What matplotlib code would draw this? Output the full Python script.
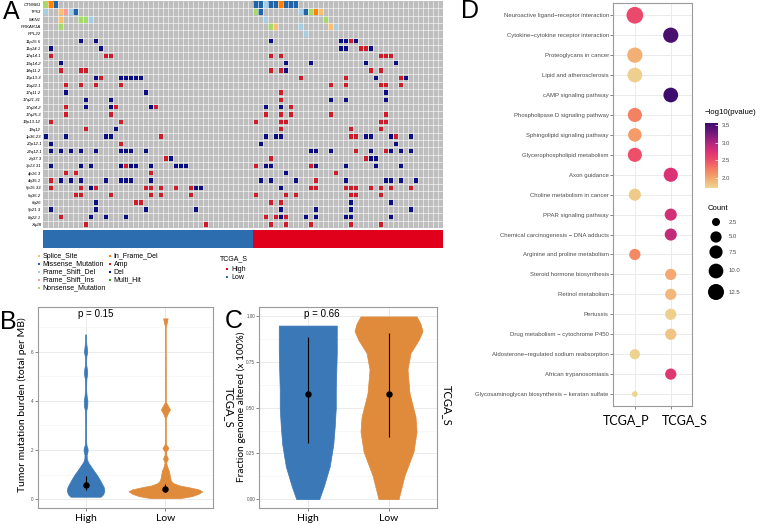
import matplotlib
matplotlib.use("Agg")
import matplotlib.pyplot as plt
import numpy as np
from matplotlib.colors import LinearSegmentedColormap, Normalize
from matplotlib.patches import Rectangle

# ---------------- data: panel A (oncoprint) ----------------
row_labels = ["CTNNB1", "TP53", "MEN1", "PRKAR1A", "RPL22",
              "11p15.5", "11q14.1", "12q14.1", "13q14.2", "14q11.2", "16p13.3",
              "16q22.1", "17q11.2", "17q21.31", "17q24.2", "17q25.3", "19p13.12",
              "19q12", "1p36.23", "20p12.1", "22q12.1", "2q37.3", "3p13.31",
              "4p16.3", "4q35.1", "5p15.33", "5q35.2", "6q26", "9p21.3",
              "8q22.1", "Xq28"]
n_low = 42
n_high = 38
# "<sample column><code>" per row
alt_rows = [
    "0N 1E 2M 42M 43M 44F 45M 46M 47E 48M 49M 50M",
    "0F 3S 4I 5F 6M 42N 43M 51F 52M 53N 54E 55S",
    "3S 7N 8N 9F 44F 56N",
    "3N 45N 46S 51F 57S 58F",
    "52F",
    "7D 10D 45D 59D 60D 61A 62D",
    "1D 11D 59D 60D 63A 64A 65D",
    "1A 12A 13A 45A 47A 67A 68A 69A",
    "3D 48D 53D 64D 70D",
    "3A 7A 8A 45A 47A 48D 65A 67A",
    "10D 11A 15D 16D 17D 18D 19D 51A 60A 66D 71A 72D",
    "4A 7A 10A 15A 57A 60A 67A 68A 71A",
    "4D 20D 47A 68D",
    "8D 13D 47A 57D 60D 68D",
    "4A 8D 13D 14A 21D 22A 44D 47D 49A",
    "4A 13A 44A 47A 49A 57A 68A",
    "1A 15A 42A 47A 48A 67A 68A",
    "8A 14D 47A 61A 67A",
    "0D 4D 12D 13D 23A 44D 46D 47D 61A 62A 64D 65D 69D 70A 73D",
    "1D 15A 43D 70D",
    "1D 3D 5D 7D 10D 15D 16D 17D 20D 53D 54D 57D 62A 65D 68A 69D 71D 73D",
    "24A 25D 45A 64A 65D 66D",
    "1D 7D 9D 15D 16A 17D 18D 21D 26D 27D 28D 42A 44D 45D 53A 54D 60D 66D 71D",
    "4A 6A 21A 48D 58A",
    "1A 3D 5D 7D 12D 15D 16D 17D 21D 43D 45D 50D 54A 60D 68D 69D 71D 74D",
    "1A 7A 9D 10A 20A 21A 23A 26A 29A 30D 31D 47D 53A 54A 60A 61A 62A 65A 67A 69A 73A",
    "6A 7A 13A 21A 23A 29A 42A 48A 50A 61A 62A 67A",
    "10D 18A 19A 45A 47A 61D 69D",
    "1D 10D 20D 30D 47D 54D 61D 73D",
    "3A 9D 12D 16D 44A 46A 47D 48A 52D 54D 60D 61D 69D",
    "8A 32A 45A 48A 53A 61A 67A",
]
alt_names = {"S": "Splice_Site", "M": "Missense_Mutation", "F": "Frame_Shift_Del",
             "I": "Frame_Shift_Ins", "N": "Nonsense_Mutation", "E": "In_Frame_Del",
             "A": "Amp", "D": "Del", "H": "Multi_Hit"}
alt_colors = {"S": "#FDBF6F", "M": "#1F63A8", "F": "#A6CEE3", "I": "#FB9A99",
              "N": "#A6D96A", "E": "#FF7F00", "A": "#D01C2A", "D": "#0B0D85",
              "H": "#33A02C"}
group_colors = {"High": "#E0001C", "Low": "#2C6DAF"}

# ---------------- data: panel B (TMB violins) ----------------
tmb_high_y = [0.10, 0.20, 0.35, 0.50, 0.65, 0.80, 1.00, 1.20, 1.35, 1.50, 1.65, 1.80,
              1.95, 2.05, 2.20, 2.40, 3.00, 3.60, 3.80, 4.00, 4.20, 4.50, 4.90, 5.10,
              5.25, 5.50, 5.80, 6.00, 6.15, 6.40, 6.70]
tmb_high_w = [0.189, 0.220, 0.235, 0.226, 0.201, 0.176, 0.138, 0.094, 0.063, 0.031,
              0.015, 0.013, 0.025, 0.025, 0.011, 0.006, 0.006, 0.008, 0.020, 0.023,
              0.013, 0.006, 0.010, 0.020, 0.018, 0.006, 0.009, 0.020, 0.015, 0.006, 0.005]
tmb_low_y = [0.04, 0.12, 0.22, 0.32, 0.40, 0.48, 0.56, 0.65, 0.75, 0.90, 1.05, 1.20,
             1.35, 1.50, 1.65, 1.80, 1.95, 2.08, 2.22, 2.40, 3.30, 3.50, 3.65, 3.80,
             3.95, 7.00, 7.20, 7.35]
tmb_low_w = [0.176, 0.327, 0.415, 0.462, 0.415, 0.302, 0.176, 0.101, 0.069, 0.057,
             0.050, 0.038, 0.019, 0.010, 0.031, 0.010, 0.010, 0.038, 0.010, 0.005,
             0.005, 0.031, 0.057, 0.031, 0.005, 0.004, 0.019, 0.028]
tmb_mid = [0.57, 0.41]
tmb_lo = [0.38, 0.30]
tmb_hi = [0.94, 0.62]
tmb_p = "p = 0.15"

# ---------------- data: panel C (FGA violins) ----------------
fga_high_y = [0.0, 0.07, 0.18, 0.30, 0.40, 0.50, 0.60, 0.70, 0.80, 0.90, 0.95]
fga_high_w = [0.142, 0.198, 0.272, 0.316, 0.334, 0.347, 0.347, 0.353, 0.359, 0.359, 0.359]
fga_low_y = [0.0, 0.13, 0.26, 0.37, 0.45, 0.58, 0.71, 0.80, 0.87, 0.92, 0.96, 1.0]
fga_low_w = [0.124, 0.198, 0.309, 0.347, 0.334, 0.260, 0.235, 0.272, 0.371, 0.421, 0.396, 0.347]
fga_mid = [0.573, 0.578]
fga_lo = [0.31, 0.34]
fga_hi = [0.885, 0.91]
fga_p = "p = 0.66"

groups_bc = ["High", "Low"]
violin_colors = ["#3B78B8", "#E08A3C"]

# ---------------- data: panel D (KEGG dot plot) ----------------
pathways = ["Neuroactive ligand\u2212receptor interaction",
            "Cytokine\u2212cytokine receptor interaction",
            "Proteoglycans in cancer",
            "Lipid and atherosclerosis",
            "cAMP signaling pathway",
            "Phospholipase D signaling pathway",
            "Sphingolipid signaling pathway",
            "Glycerophospholipid metabolism",
            "Axon guidance",
            "Choline metabolism in cancer",
            "PPAR signaling pathway",
            "Chemical carcinogenesis \u2212 DNA adducts",
            "Arginine and proline metabolism",
            "Steroid hormone biosynthesis",
            "Retinol metabolism",
            "Pertussis",
            "Drug metabolism \u2212 cytochrome P450",
            "Aldosterone\u2212regulated sodium reabsorption",
            "African trypanosomiasis",
            "Glycosaminoglycan biosynthesis \u2212 keratan sulfate"]
path_group = ["TCGA_P", "TCGA_S", "TCGA_P", "TCGA_P", "TCGA_S", "TCGA_P", "TCGA_P",
              "TCGA_P", "TCGA_S", "TCGA_P", "TCGA_S", "TCGA_S", "TCGA_P", "TCGA_S",
              "TCGA_S", "TCGA_S", "TCGA_S", "TCGA_P", "TCGA_S", "TCGA_P"]
path_count = [14, 11, 11, 10, 10, 9, 8, 9, 9, 6, 6, 6, 5, 5, 5, 5, 5, 4, 5, 2]
path_logp = [2.55, 3.50, 1.95, 1.75, 3.57, 2.22, 2.07, 2.50, 2.75, 1.78, 2.80, 2.90,
             2.17, 2.00, 1.90, 1.75, 1.82, 1.73, 2.70, 1.71]
dot_groups = ["TCGA_P", "TCGA_S"]
legend_counts = [2.5, 5.0, 7.5, 10.0, 12.5]
cbar_ticks = [2.0, 2.5, 3.0, 3.5]

# ---------------- figure setup ----------------
plt.rcParams["font.family"] = ["Liberation Sans", "DejaVu Sans"]
W, H, DPI = 762, 524, 100
fig = plt.figure(figsize=(W / DPI, H / DPI), dpi=DPI)
BIG = ["Lato", "DejaVu Sans"]


def add_px_axes(x0, y0, x1, y1):
    return fig.add_axes([x0 / W, 1 - y1 / H, (x1 - x0) / W, (y1 - y0) / H])


def ftext(x, y, s, **kw):
    kw.setdefault("ha", "center")
    kw.setdefault("va", "center")
    return fig.text(x / W, 1 - y / H, s, **kw)


# ---------------- panel A ----------------
n_rows = len(row_labels)
n_cols = n_low + n_high
axA = add_px_axes(43.3, 1, 443.3, 228)
axA.set_xlim(0, n_cols)
axA.set_ylim(n_rows, 0)
axA.set_facecolor("#BEBEBE")
axA.vlines(np.arange(1, n_cols), 0, n_rows, color="white", lw=0.4)
axA.hlines(np.arange(1, n_rows), 0, n_cols, color="white", lw=0.4)
for r, spec in enumerate(alt_rows):
    for tok in spec.split():
        c, code = int(tok[:-1]), tok[-1]
        if code in "AD":
            axA.add_patch(Rectangle((c + 0.05, r + 0.2), 0.9, 0.6,
                                    facecolor=alt_colors[code], lw=0))
        else:
            axA.add_patch(Rectangle((c + 0.02, r + 0.04), 0.96, 0.92,
                                    facecolor=alt_colors[code], lw=0))
axA.set_xticks([])
axA.set_yticks(np.arange(n_rows) + 0.5)
axA.set_yticklabels(row_labels, fontsize=3.2, fontstyle="italic")
axA.tick_params(axis="y", length=0, pad=1.5)
for s in axA.spines.values():
    s.set_visible(False)

axAnn = add_px_axes(43.3, 230, 443.3, 248)
sample_groups = ["Low"] * n_low + ["High"] * n_high
axAnn.bar(np.arange(n_cols), 1, width=1, align="edge",
          color=[group_colors[g] for g in sample_groups], lw=0)
axAnn.set_xlim(0, n_cols)
axAnn.set_ylim(0, 1)
axAnn.axis("off")

legA = add_px_axes(30, 250, 300, 296)
legA.set_xlim(30, 300)
legA.set_ylim(296, 250)
legA.axis("off")
leg_col1 = ["S", "M", "F", "I", "N"]
leg_col2 = ["E", "A", "D", "H"]
for col_codes, x0 in ((leg_col1, 39), (leg_col2, 110)):
    for i, code in enumerate(col_codes):
        y = 256 + 8 * i
        legA.scatter(x0, y, marker="s", s=4, color=alt_colors[code], lw=0)
        legA.text(x0 + 3.5, y, alt_names[code], fontsize=5, va="center", ha="left")
legA.text(220, 259, "TCGA_S", fontsize=5, va="center", ha="left")
for i, g in enumerate(["High", "Low"]):
    legA.scatter(227, 269 + 8 * i, marker="s", s=4, color=group_colors[g], lw=0)
    legA.text(231, 269 + 8 * i, g, fontsize=5, va="center", ha="left")


# ---------------- panels B & C ----------------
def style_violin_axes(ax, ylim, major, minor, ticklabels):
    ax.set_xlim(0.4, 2.6)
    ax.set_ylim(*ylim)
    ax.set_xticks([1, 2])
    ax.set_xticklabels(groups_bc, fontsize=7.5, family=BIG)
    ax.set_yticks(major)
    ax.set_yticklabels(ticklabels)
    ax.set_yticks(minor, minor=True)
    ax.grid(which="major", color="#EBEBEB", lw=0.7)
    ax.grid(which="minor", color="#F2F2F2", lw=0.4)
    ax.set_axisbelow(True)
    ax.tick_params(axis="y", which="major", length=2, width=0.5, color="#555555",
                   labelsize=3.3, labelcolor="#4D4D4D", pad=1)
    ax.tick_params(axis="x", which="major", length=2, width=0.5, color="#555555", pad=2)
    ax.tick_params(which="minor", length=0)
    for s in ax.spines.values():
        s.set_color("#9A9A9A")
        s.set_linewidth(0.8)


def draw_violin(ax, pos, ys, ws, color):
    ys = np.asarray(ys)
    ws = np.asarray(ws)
    ax.fill_betweenx(ys, pos - ws, pos + ws, facecolor=color, edgecolor=color,
                     lw=0.5, zorder=2)


def draw_summary(ax, mids, los, his):
    for i, (m, lo, hi) in enumerate(zip(mids, los, his)):
        ax.vlines(i + 1, lo, hi, color="black", lw=0.8, zorder=3)
        ax.plot(i + 1, m, "o", ms=3.6, color="black", zorder=4)


axB = add_px_axes(37.7, 307.3, 213.3, 508.3)
style_violin_axes(axB, (-0.37, 7.8), [0, 2, 4, 6], [1, 3, 5, 7], ["0", "2", "4", "6"])
draw_violin(axB, 1, tmb_high_y, tmb_high_w, violin_colors[0])
draw_violin(axB, 2, tmb_low_y, tmb_low_w, violin_colors[1])
draw_summary(axB, tmb_mid, tmb_lo, tmb_hi)
axB.text(1.13, 7.53, tmb_p, ha="center", va="center", fontsize=7)

axC = add_px_axes(259.3, 307.3, 437, 508.3)
style_violin_axes(axC, (-0.05, 1.05), [0, 0.25, 0.5, 0.75, 1.0],
                  [0.125, 0.375, 0.625, 0.875], ["0.00", "0.25", "0.50", "0.75", "1.00"])
draw_violin(axC, 1, fga_high_y, fga_high_w, violin_colors[0])
draw_violin(axC, 2, fga_low_y, fga_low_w, violin_colors[1])
draw_summary(axC, fga_mid, fga_lo, fga_hi)
axC.text(1.17, 1.013, fga_p, ha="center", va="center", fontsize=7)

ftext(22, 405, "Tumor mutation burden (total per MB)", rotation=90, fontsize=7.5, family=BIG)
ftext(241, 407, "Fraction genome altered (x 100%)", rotation=90, fontsize=7.3, family=BIG)
ftext(229, 407, "TCGA_S", rotation=270, fontsize=8, family=BIG)
ftext(447, 405, "TCGA_S", rotation=270, fontsize=8, family=BIG)

# ---------------- panel D ----------------
cmap = LinearSegmentedColormap.from_list(
    "kegg", [(0.0, "#EDD591"), (0.156, "#F3A86E"), (0.29, "#F47C60"),
             (0.425, "#EE4F68"), (0.559, "#DD3175"), (0.694, "#B0267F"),
             (0.828, "#7A1A7D"), (1.0, "#3D0C6C")])
norm = Normalize(vmin=min(path_logp), vmax=max(path_logp))


def count_to_area(count):
    d_px = 5.8 + 10.9 * np.sqrt((np.asarray(count, dtype=float) - 2) / 12)
    return (d_px * 72 / DPI) ** 2


axD = add_px_axes(613.3, 3.3, 692.3, 406)
ypos = np.arange(1, len(pathways) + 1)
xpos = [dot_groups.index(g) + 1 for g in path_group]
sc = axD.scatter(xpos, ypos, s=count_to_area(path_count), c=path_logp, cmap=cmap,
                 norm=norm, lw=0, zorder=3)
axD.set_xlim(0.4, 2.6)
axD.set_ylim(len(pathways) + 0.6, 0.4)
axD.set_yticks(ypos)
axD.set_yticklabels(pathways, fontsize=4.3, color="#4D4D4D")
axD.set_xticks([1, 2])
axD.set_xticklabels(["", ""])
axD.grid(color="#EBEBEB", lw=0.7)
axD.set_axisbelow(True)
axD.tick_params(length=2, width=0.5, color="#555555", pad=1.2)
for s in axD.spines.values():
    s.set_color("#9A9A9A")
    s.set_linewidth(0.8)
# group names sit spread apart under the panel, as in the figure
ftext(626, 420, dot_groups[0], fontsize=9, family=BIG)
ftext(685, 420, dot_groups[1], fontsize=9, family=BIG)

cax = add_px_axes(705, 123, 718, 188)
cb = fig.colorbar(sc, cax=cax)
cb.set_ticks(cbar_ticks)
cb.ax.tick_params(labelsize=4.3, labelcolor="#4D4D4D", length=2, width=0.5,
                  color="white", direction="in", pad=3)
cb.outline.set_visible(False)
ftext(705, 113, "\u2212log10(pvalue)", fontsize=5.6, ha="left")

ftext(708, 208, "Count", fontsize=5.6, ha="left")
lax = add_px_axes(700, 212, 760, 302)
lax.set_xlim(700, 760)
lax.set_ylim(302, 212)
lax.axis("off")
legend_y = [222, 237, 252, 271, 292]
lax.scatter([716] * len(legend_counts), legend_y, s=count_to_area(legend_counts),
            color="black", lw=0)
for cval, y in zip(legend_counts, legend_y):
    lax.text(729, y, f"{cval:.1f}", fontsize=4.3, color="#4D4D4D", va="center", ha="left")

# ---------------- panel letters ----------------
ftext(11, 12, "A", fontsize=18)
ftext(8, 322, "B", fontsize=18)
ftext(234, 321, "C", fontsize=18)
ftext(470, 11, "D", fontsize=18)

fig.savefig("out.png", dpi=DPI)
